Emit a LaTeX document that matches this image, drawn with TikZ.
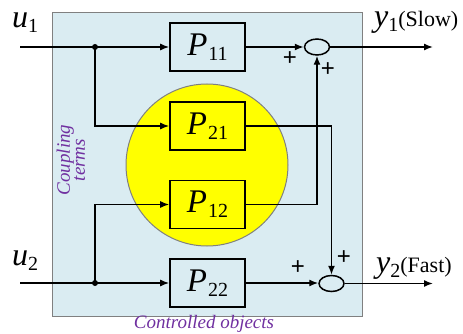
\documentclass[tikz,border=0pt]{standalone}
\usepackage{fontspec}
\setmainfont{Liberation Serif}[ItalicFont={Liberation Serif Italic},BoldFont={Liberation Serif Bold}]
\setsansfont{Liberation Sans}
\usetikzlibrary{arrows.meta,shapes.geometric}
\definecolor{bgblue}{RGB}{218,236,242}
\definecolor{frame}{RGB}{128,128,128}
\definecolor{ylw}{RGB}{255,255,0}
\definecolor{purp}{RGB}{112,48,160}
\newcommand{\blk}[2]{\fontsize{33}{33}\selectfont\textit{#1}\kern1pt\raisebox{-5pt}{\fontsize{20}{20}\selectfont #2}}
\newcommand{\sig}[2]{\fontsize{32}{32}\selectfont\textit{#1}\raisebox{-5pt}{\fontsize{20}{20}\selectfont #2}}
\newcommand{\plussym}{{\fontsize{24}{24}\selectfont\sffamily +}}
\tikzset{
  pbox/.style={draw=black, line width=1.6pt, minimum width=75pt, minimum height=48pt, inner sep=0pt},
  sumnode/.style={ellipse, draw=black, line width=1.5pt, fill=bgblue, minimum width=25pt, minimum height=16pt, inner sep=0pt},
  arr/.style={line width=1.4pt, -{Latex[length=9pt,width=7pt]}},
  plussign/.style={inner sep=0pt},
  lbl/.style={anchor=base west, inner sep=0pt},
  dotn/.style={circle, fill=black, minimum size=6pt, inner sep=0pt},
  note/.style={text=purp, font=\fontsize{19}{15}\selectfont\itshape, align=center, inner sep=0pt}
}
\begin{document}
\begin{tikzpicture}[x=1pt,y=-1pt]
\useasboundingbox (0,0) rectangle (463,334);
\fill[bgblue, draw=frame, line width=1pt] (52,13) rectangle (362,316);
\fill[ylw, draw=frame, line width=1pt] (207,165) circle[radius=81];
\node[pbox, fill=bgblue] (P11) at (207.5,47) {\blk{P}{11}};
\node[pbox, fill=ylw] (P21) at (207.5,126) {\blk{P}{21}};
\node[pbox, fill=ylw] (P12) at (207.5,204.5) {\blk{P}{12}};
\node[pbox, fill=bgblue] (P22) at (207.5,283) {\blk{P}{22}};
\node[sumnode] (s1) at (317,47) {};
\node[sumnode] (s2) at (331.5,283.5) {};
\coordinate (in1) at (20,47);
\coordinate (in2) at (20,283);
\coordinate (out1) at (433,47);
\coordinate (out2) at (433,283.5);
\node[dotn] (j1) at (95,47) {};
\node[dotn] (j2) at (95,283) {};
\draw[arr] (in1) -- (P11.west);
\draw[arr] (j1.center) |- (P21.west);
\draw[arr] (in2) -- (P22.west);
\draw[arr] (j2.center) |- (P12.west);
\draw[arr] (P11.east) -- (s1.west);
\draw[arr] (P22.east) -- (P22.east -| s2.west);
\draw[arr] (P21.east) -| (s2.north);
\draw[arr] (P12.east) -| (s1.south);
\draw[arr] (s1.east) -- (out1);
\draw[arr] (s2.east) -- (out2);
\node[lbl] (u1) at (12,28) {\sig{u}{1}};
\node[lbl] (u2) at (12,265) {\sig{u}{2}};
\node[lbl] (y1) at (374,27) {\sig{y}{1}\fontsize{22}{22}\selectfont(Slow)};
\node[lbl] (y2) at (376,272) {\sig{y}{2}\fontsize{22}{22}\selectfont(Fast)};
\node[plussign] (pa) at (290,59) {\plussym};
\node[plussign] (pb) at (328,70) {\plussym};
\node[plussign] (pc) at (298,268) {\plussym};
\node[plussign] (pd) at (344,258) {\plussym};
\node[note, rotate=90] (ct) at (71,160) {Coupling\\terms};
\node[note] (co) at (204,324) {Controlled objects};
\end{tikzpicture}
\end{document}
